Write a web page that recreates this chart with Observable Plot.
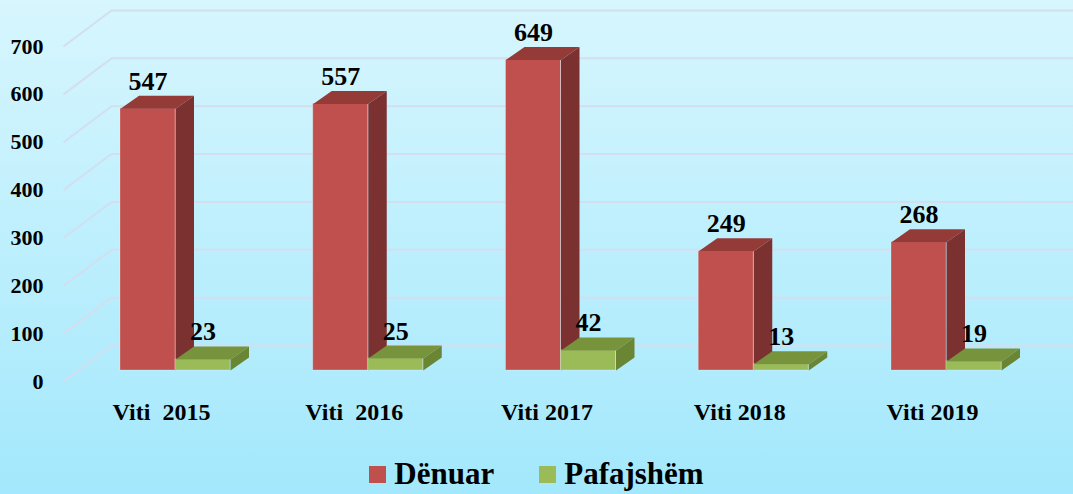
<!DOCTYPE html>
<html>
<head>
<meta charset="utf-8">
<script src="https://cdn.jsdelivr.net/npm/d3@7"></script>
<script src="https://cdn.jsdelivr.net/npm/@observablehq/plot@0.6"></script>
<style>
  html, body { margin: 0; padding: 0; }
  #wrap { width: 1073px; height: 494px; background: linear-gradient(#d7f6fe, #a3e8fc); overflow: hidden; position: relative; }
  #chart svg { display: block; background: transparent; overflow: visible; }
  #legend { position: absolute; left: 0; top: 456px; width: 1073px; height: 36px; display: flex; justify-content: center; align-items: center; }
  #legend .lg-swatches { margin: 0; min-height: 0; justify-content: center; font: bold 31px "Liberation Serif", serif; color: #000; gap: 0 45px; }
  #legend .lg-swatch { margin-right: 0; }
  #legend .lg-swatch > svg { margin-right: 8px; }
</style>
</head>
<body>
<div id="wrap">
  <div id="chart"></div>
  <div id="legend"></div>
</div>
<script>
// ---- data ----
const years = ["Viti  2015", "Viti  2016", "Viti 2017", "Viti 2018", "Viti 2019"];
const denuar = [547, 557, 649, 249, 268];
const pafajshem = [23, 25, 42, 13, 19];
const seriesNames = ["Dënuar", "Pafajshëm"];
const yTicks = [0, 100, 200, 300, 400, 500, 600, 700];

// ---- styling / geometry ----
const W = 1073, H = 450;
const mTop = 35, mBottom = 80;
const pxPerGroup = 192.75;          // pixel distance between groups
const x0px = 175;                   // pixel of group 0 center (red/green boundary)
const yMax = 700;
const unitsPerPxY = yMax / (H - mTop - mBottom);
const barW = 55 / pxPerGroup;       // bar width in x units
const dX = 18.5 / pxPerGroup;       // depth offset (x units)
const dY = 13 * unitsPerPxY;        // depth offset (y units)
const wallFrontX = (63 - x0px) / pxPerGroup;
const wallBackX = (111 - x0px) / pxPerGroup;
const wallFrontU = 11 * unitsPerPxY;
const wallBackU = 25 * unitsPerPxY;
const tickLabelX = (43 - x0px) / pxPerGroup;
const xDomain = [-x0px / pxPerGroup, (W - x0px) / pxPerGroup];

const colors = {
  front: ["#C0504D", "#9BBB59"],
  top:   ["#943B38", "#77933C"],
  side:  ["#7B3130", "#6A8534"]
};

const seriesVals = [denuar, pafajshem];
const rows = [];
seriesVals.forEach((vals, s) => {
  vals.forEach((v, i) => {
    const x1 = i - barW + s * barW;
    rows.push({s, i, v, x1, x2: x1 + barW, year: years[i]});
  });
});
function topPoly(r) {
  return [[r.x1, r.v], [r.x2, r.v], [r.x2 + dX, r.v + dY], [r.x1 + dX, r.v + dY]]
    .map(([x, y]) => ({x, y, id: `${r.s}-${r.i}`}));
}
function sidePoly(r) {
  return [[r.x2, 0], [r.x2, r.v], [r.x2 + dX, r.v + dY], [r.x2 + dX, dY]]
    .map(([x, y]) => ({x, y, id: `${r.s}-${r.i}`}));
}

const gridColor = "#d3deef";
const font = '"Liberation Serif", serif';

const marks = [
  // back wall gridlines
  Plot.ruleY(yTicks, {y: d => d + wallBackU, x1: wallBackX, x2: xDomain[1], stroke: gridColor, strokeWidth: 2}),
  // left wall gridlines
  Plot.link(yTicks, {x1: wallFrontX, y1: d => d - wallFrontU, x2: wallBackX, y2: d => d + wallBackU, stroke: gridColor, strokeWidth: 2}),
  // y tick labels
  Plot.text(yTicks, {x: tickLabelX, y: d => d - wallFrontU, text: d => String(d), textAnchor: "end", lineAnchor: "middle",
    fontSize: 22, fontWeight: "bold", fontFamily: font, fill: "#000"}),
];
[0, 1].forEach(s => {
  const rs = rows.filter(r => r.s === s);
  marks.push(
    Plot.rect(rs, {x1: "x1", x2: "x2", y1: 0, y2: "v", fill: colors.front[s], stroke: "#ffffff", strokeOpacity: 0.25, strokeWidth: 1}),
    Plot.line(rs.flatMap(topPoly), {x: "x", y: "y", z: "id", fill: colors.top[s], stroke: "none"}),
    Plot.line(rs.flatMap(sidePoly), {x: "x", y: "y", z: "id", fill: colors.side[s], stroke: "none"})
  );
});
marks.push(
  Plot.text(rows, {x: r => (r.x1 + r.x2) / 2, y: "v", text: r => String(r.v), dy: -19, lineAnchor: "bottom",
    fontSize: 26, fontWeight: "bold", fontFamily: font, fill: "#000"}),
  Plot.axisX(years.map((d, i) => i), {tickFormat: i => years[i].replace(/  /g, " \u00a0"), tickSize: 0, tickPadding: 0,
    lineAnchor: "middle", dy: 42, dx: -14, fontSize: 24, fontWeight: "bold", fontFamily: font, fill: "#000"})
);

const chart = Plot.plot({
  width: W, height: H,
  marginLeft: 0, marginRight: 0, marginTop: mTop, marginBottom: mBottom,
  x: {type: "linear", domain: xDomain},
  y: {domain: [0, yMax]},
  axis: null,
  style: {background: "transparent", overflow: "visible"},
  marks
});
document.getElementById("chart").appendChild(chart);

const legend = Plot.legend({
  color: {type: "categorical", domain: seriesNames, range: colors.front},
  legend: "swatches",
  swatchSize: 17,
  className: "lg"
});
document.getElementById("legend").appendChild(legend);
</script>
</body>
</html>
